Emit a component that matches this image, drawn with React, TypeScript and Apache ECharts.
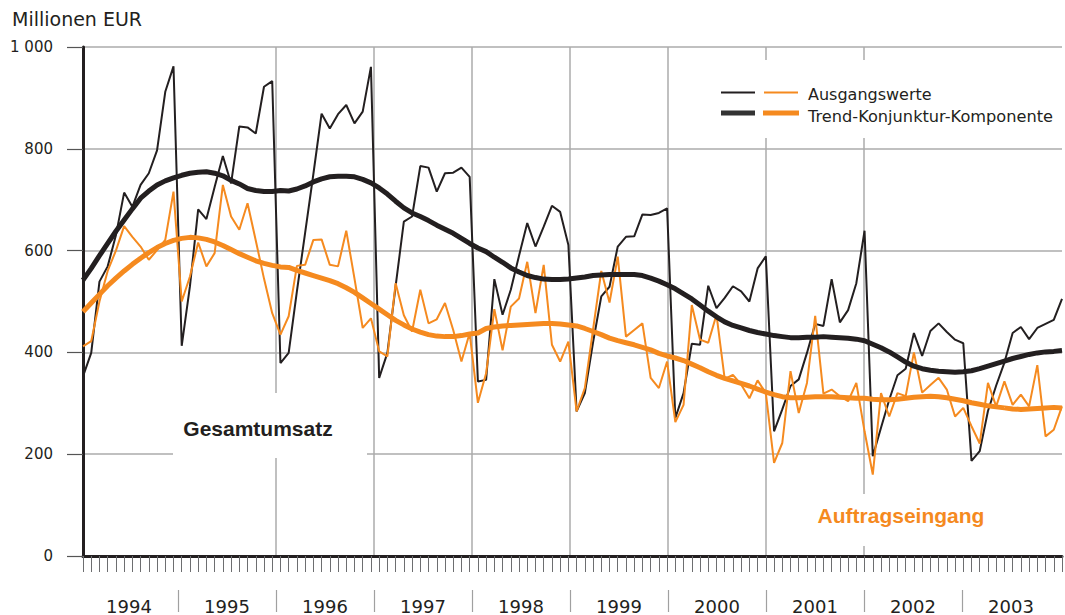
import React, { useEffect, useRef } from 'react';
import * as echarts from 'echarts';

// ---- data (Millionen EUR, monthly Jan 1994 – Dec 2003) ----
const years = ['1994', '1995', '1996', '1997', '1998', '1999', '2000', '2001', '2002', '2003'];

const yAxisTicks = [0, 200, 400, 600, 800, 1000];

// Gesamtumsatz – Ausgangswerte
const totalRaw = [
  353, 399, 539, 569, 630, 714, 686, 729, 752, 797, 912, 962,
  413, 530, 681, 662, 725, 786, 732, 844, 842, 830, 922, 933,
  379, 399, 520, 635, 750, 869, 840, 868, 886, 850, 873, 961,
  350, 399, 530, 657, 667, 766, 763, 716, 752, 753, 763, 745,
  343, 346, 544, 474, 523, 590, 654, 608, 647, 688, 676, 611,
  284, 320, 420, 510, 529, 608, 627, 628, 671, 670, 674, 683,
  271, 320, 417, 415, 531, 487, 507, 530, 520, 500, 565, 589,
  245, 288, 334, 347, 399, 456, 452, 544, 459, 483, 536, 639,
  196, 252, 307, 355, 368, 438, 393, 442, 457, 440, 425, 418,
  187, 206, 285, 335, 380, 438, 450, 426, 448, 456, 464, 505,
];

// Gesamtumsatz – Trend-Konjunktur-Komponente
const totalTrend = [
  542, 565, 590, 614, 638, 660, 682, 703, 717, 729, 737, 743,
  748, 752, 754, 755, 752, 747, 738, 731, 722, 718, 716, 716,
  718, 717, 721, 727, 735, 741, 745, 746, 746, 745, 740, 733,
  723, 711, 697, 684, 674, 667, 659, 650, 642, 634, 624, 614,
  605, 598, 587, 577, 566, 558, 551, 547, 544, 543, 543, 544,
  546, 548, 551, 552, 553, 553, 553, 553, 551, 546, 540, 533,
  525, 515, 505, 493, 481, 470, 460, 453, 448, 443, 439, 436,
  433, 431, 429, 429, 430, 430, 431, 430, 429, 428, 426, 423,
  416, 409, 401, 391, 381, 373, 368, 365, 363, 362, 361, 362,
  364, 368, 373, 378, 383, 388, 392, 396, 399, 401, 402, 404,
];

// Auftragseingang – Ausgangswerte
const ordersRaw = [
  412, 422, 500, 560, 600, 648, 627, 608, 582, 601, 621, 716,
  500, 549, 616, 569, 595, 729, 667, 641, 693, 620, 545, 477,
  435, 471, 570, 572, 621, 622, 572, 569, 639, 545, 448, 467,
  402, 392, 536, 473, 441, 523, 457, 465, 497, 444, 382, 438,
  301, 359, 485, 404, 490, 506, 578, 477, 572, 415, 382, 421,
  284, 330, 445, 560, 498, 588, 431, 444, 457, 350, 330, 382,
  263, 297, 493, 425, 419, 474, 348, 356, 337, 310, 345, 320,
  183, 222, 363, 281, 340, 472, 319, 327, 314, 304, 340, 245,
  160, 320, 274, 320, 314, 400, 321, 336, 350, 327, 274, 291,
  255, 221, 340, 294, 343, 297, 317, 294, 375, 235, 248, 294,
];

// Auftragseingang – Trend-Konjunktur-Komponente
const ordersTrend = [
  480, 497, 514, 531, 546, 560, 573, 585, 596, 606, 614, 620,
  624, 626, 625, 622, 617, 610, 602, 594, 587, 580, 575, 571,
  568, 567, 561, 556, 551, 546, 541, 535, 527, 518, 507, 496,
  485, 474, 463, 454, 446, 440, 435, 432, 431, 431, 433, 436,
  438, 447, 450, 452, 453, 454, 455, 456, 457, 457, 456, 454,
  452, 447, 441, 435, 428, 423, 419, 415, 410, 405, 398, 393,
  389, 384, 377, 370, 362, 355, 349, 344, 339, 334, 328, 322,
  317, 313, 311, 311, 312, 313, 313, 313, 312, 311, 310, 310,
  308, 307, 307, 308, 310, 312, 313, 314, 313, 311, 308, 305,
  301, 298, 295, 293, 291, 289, 288, 289, 290, 291, 292, 291,
];

const BLACK = '#231f20';
const ORANGE = '#f58a1f';
const GRID = '#ababab';
const TEXT = '#231f20';

const fmtThousands = (v: number) => String(v).replace(/\B(?=(\d{3})+(?!\d))/g, ' ');

export default function App() {
  const ref = useRef<HTMLDivElement>(null);

  useEffect(() => {
    if (!ref.current) return;
    const chart = echarts.init(ref.current, null, { renderer: 'svg' });
    const pairs = (arr: number[]) => arr.map((v, i) => [i, v]);
    const nMonths = years.length * 12;
    const yearBoundaries = years.slice(1).map((_, k) => (k + 1) * 12);
    const yearCenters = years.map((_, k) => k * 12 + 6);

    chart.setOption({
      animation: false,
      backgroundColor: '#ffffff',
      grid: [
        { left: 83, top: 47, width: 979, height: 509, containLabel: false },
        { left: 80, top: 47, width: 980, height: 509, containLabel: false },
      ],
      xAxis: [
        {
          gridIndex: 0,
          type: 'value',
          min: 0,
          max: nMonths - 1,
          interval: 1,
          axisLine: { show: true, onZero: false, lineStyle: { color: BLACK, width: 3 } },
          axisTick: { show: true, length: 16, lineStyle: { color: '#6d6e70', width: 1 } },
          axisLabel: { show: false },
          splitLine: { show: false },
        },
        {
          // year grid lines
          gridIndex: 1,
          type: 'value',
          min: 0,
          max: nMonths,
          position: 'bottom',
          axisLine: { show: false },
          axisTick: { show: false, customValues: yearBoundaries },
          axisLabel: { show: false },
          splitLine: {
            show: true,
            showMinLine: false,
            showMaxLine: false,
            lineStyle: { color: GRID, width: 1.5 },
          },
        },
        {
          // year labels and separators
          gridIndex: 1,
          type: 'value',
          min: 0,
          max: nMonths,
          position: 'bottom',
          offset: 34,
          axisLine: { show: true, onZero: false, lineStyle: { color: 'rgba(0,0,0,0)', width: 1 } },
          axisTick: {
            show: true,
            inside: false,
            customValues: yearBoundaries,
            length: 22,
            lineStyle: { color: '#a0a0a0', width: 1.2 },
          },
          axisLabel: {
            show: true,
            customValues: yearCenters,
            margin: 7,
            fontSize: 18,
            fontFamily: 'DejaVu Sans',
            color: TEXT,
            formatter: (v: number) => years[Math.round((v - 6) / 12)] ?? '',
          },
          splitLine: { show: false },
        },
      ],
      yAxis: [
        {
          gridIndex: 0,
          type: 'value',
          min: yAxisTicks[0],
          max: yAxisTicks[yAxisTicks.length - 1],
          interval: yAxisTicks[1] - yAxisTicks[0],
          axisLine: { show: true, lineStyle: { color: BLACK, width: 3 } },
          axisTick: { show: true, length: 16, lineStyle: { color: '#555', width: 1.2 } },
          axisLabel: {
            margin: 30,
            fontSize: 15,
            fontFamily: 'DejaVu Sans',
            color: TEXT,
            formatter: (v: number) => fmtThousands(v),
          },
          splitLine: { show: true, lineStyle: { color: GRID, width: 1.5 } },
        },
        { gridIndex: 1, type: 'value', min: 0, max: 1000, show: false },
      ],
      series: [
        {
          name: 'Gesamtumsatz – Ausgangswerte',
          type: 'line',
          xAxisIndex: 0,
          yAxisIndex: 0,
          data: pairs(totalRaw),
          showSymbol: false,
          symbol: 'none',
          lineStyle: { color: BLACK, width: 2 },
          z: 2,
        },
        {
          name: 'Auftragseingang – Ausgangswerte',
          type: 'line',
          xAxisIndex: 0,
          yAxisIndex: 0,
          data: pairs(ordersRaw),
          showSymbol: false,
          symbol: 'none',
          lineStyle: { color: ORANGE, width: 2 },
          z: 3,
        },
        {
          name: 'Gesamtumsatz – Trend-Konjunktur-Komponente',
          type: 'line',
          xAxisIndex: 0,
          yAxisIndex: 0,
          data: pairs(totalTrend),
          showSymbol: false,
          symbol: 'none',
          lineStyle: { color: BLACK, width: 5 },
          z: 4,
        },
        {
          name: 'Auftragseingang – Trend-Konjunktur-Komponente',
          type: 'line',
          xAxisIndex: 0,
          yAxisIndex: 0,
          data: pairs(ordersTrend),
          showSymbol: false,
          symbol: 'none',
          lineStyle: { color: ORANGE, width: 5 },
          z: 5,
        },
      ],
      graphic: [
        {
          type: 'text',
          x: 12,
          y: 19,
          style: { text: 'Millionen EUR', fill: TEXT, font: '19px "DejaVu Sans"', align: 'left', verticalAlign: 'middle' },
        },
        // label boxes (white backgrounds interrupt the grid lines)
        { type: 'rect', shape: { x: 173, y: 393, width: 194, height: 65 }, style: { fill: '#ffffff' }, z: 1 },
        {
          type: 'text',
          x: 258,
          y: 428,
          style: { text: 'Gesamtumsatz', fill: TEXT, font: 'bold 21px "Liberation Sans"', align: 'center', verticalAlign: 'middle' },
          z: 2,
        },
        { type: 'rect', shape: { x: 795, y: 494, width: 215, height: 52 }, style: { fill: '#ffffff' }, z: 1 },
        {
          type: 'text',
          x: 901,
          y: 515,
          style: { text: 'Auftragseingang', fill: ORANGE, font: 'bold 21px "Liberation Sans"', align: 'center', verticalAlign: 'middle' },
          z: 2,
        },
        // legend
        { type: 'rect', shape: { x: 700, y: 60, width: 363, height: 78 }, style: { fill: '#ffffff' }, z: 1 },
        { type: 'line', shape: { x1: 721, y1: 92.5, x2: 755, y2: 92.5 }, style: { stroke: BLACK, lineWidth: 2 }, z: 2 },
        { type: 'line', shape: { x1: 764, y1: 92.5, x2: 798, y2: 92.5 }, style: { stroke: ORANGE, lineWidth: 2 }, z: 2 },
        { type: 'line', shape: { x1: 721, y1: 113, x2: 755, y2: 113 }, style: { stroke: '#333333', lineWidth: 5 }, z: 2 },
        { type: 'line', shape: { x1: 763, y1: 113, x2: 799, y2: 113 }, style: { stroke: ORANGE, lineWidth: 5 }, z: 2 },
        {
          type: 'text',
          x: 808,
          y: 94,
          style: { text: 'Ausgangswerte', fill: TEXT, font: '16px "DejaVu Sans"', align: 'left', verticalAlign: 'middle' },
          z: 2,
        },
        {
          type: 'text',
          x: 808,
          y: 116,
          style: { text: 'Trend-Konjunktur-Komponente', fill: TEXT, font: '16.2px "DejaVu Sans"', align: 'left', verticalAlign: 'middle' },
          z: 2,
        },
      ],
    });

    return () => chart.dispose();
  }, []);

  return <div ref={ref} style={{ position: 'fixed', left: 0, top: 0, width: 1065, height: 615 }} />;
}
